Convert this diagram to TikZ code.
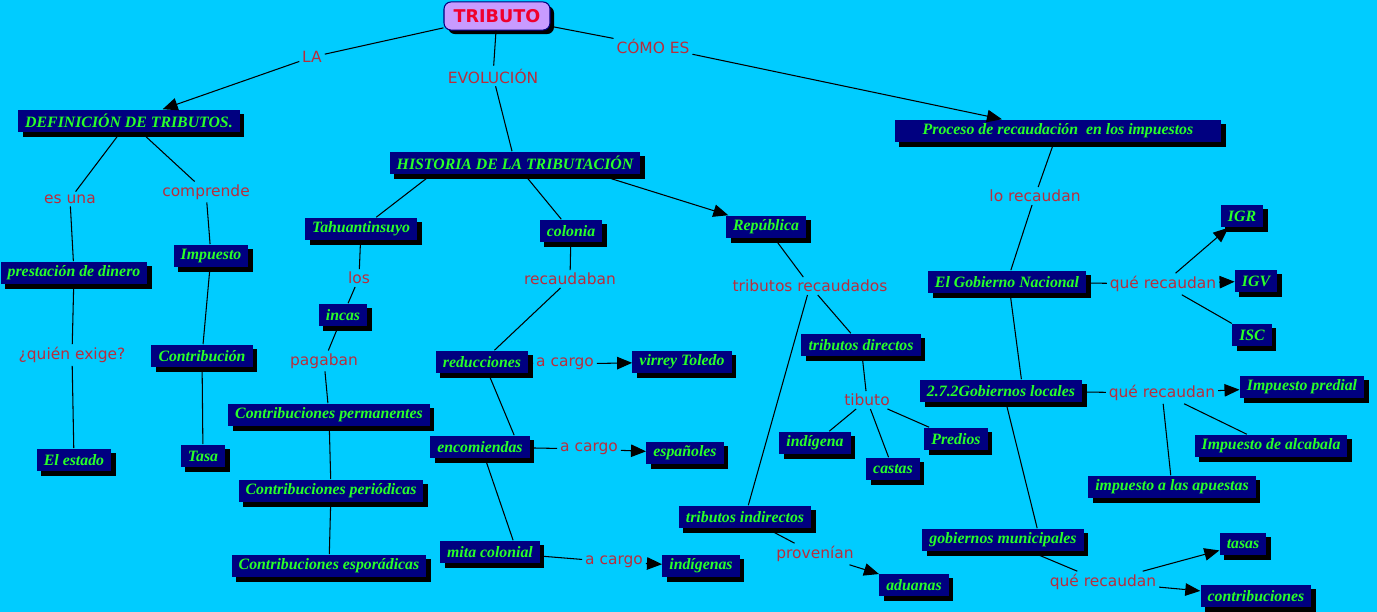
\documentclass[tikz,border=0pt]{standalone}
\usepackage{fontspec}
\setmainfont{DejaVu Sans}
\newfontfamily\boxfont{Liberation Serif}
\usepackage{xcolor}
\usepackage{tikz}
\usetikzlibrary{arrows.meta, shadows}

\definecolor{mapcyan}{RGB}{0,204,255}
\definecolor{boxnavy}{RGB}{0,0,128}
\definecolor{boxgreen}{RGB}{40,255,40}
\definecolor{phrasered}{RGB}{185,45,60}
\definecolor{rootlilac}{RGB}{200,155,255}
\definecolor{rootred}{RGB}{240,0,45}

\begin{document}
\begin{tikzpicture}[
  x=0.02cm, y=-0.02cm,
  concept/.style={
    rectangle,
    fill=boxnavy,
    text=boxgreen,
    font=\boxfont\bfseries\itshape\fontsize{9pt}{10pt}\selectfont,
    inner xsep=4pt,
    inner ysep=0pt,
    minimum height=13pt,
    drop shadow={shadow xshift=2.6pt, shadow yshift=-2.6pt, opacity=1, fill=black}
  },
  root/.style={
    rectangle,
    draw=boxnavy,
    fill=rootlilac,
    text=rootred,
    rounded corners=4pt,
    font=\bfseries\fontsize{10pt}{12pt}\selectfont,
    inner xsep=5.5pt,
    minimum height=16pt,
    line width=0.6pt,
    drop shadow={shadow xshift=2.3pt, shadow yshift=-2.3pt, opacity=1, fill=black}
  },
  phrase/.style={
    text=phrasered,
    font=\fontsize{8.8pt}{10pt}\selectfont,
    inner sep=1.5pt
  },
  link/.style={
    draw=black,
    line width=0.6pt
  },
  flow/.style={
    link,
    -{Triangle[length=3mm, width=2.5mm]}
  }
]

\fill[mapcyan] (0,0) rectangle (1377,612);
\useasboundingbox (0,0) rectangle (1377,612);

% --- Root ------------------------------------------------------------

\node[root] (tributo) at (497,16) {TRIBUTO};

\node[phrase] (la) at (312,57) {LA};
\node[phrase] (evol) at (493,76) {EVOLUCIÓN};
\node[phrase] (comoes) at (653,46) {CÓMO ES};

% --- Definicion branch -----------------------------------------------

\node[concept] (def) at (129,121) {DEFINICIÓN DE TRIBUTOS.};
\node[phrase] (esuna) at (70,199) {es una};
\node[phrase] (comprende) at (206,192) {comprende};
\node[concept] (prest) at (74,273) {prestación de dinero};
\node[concept] (impuesto) at (211,256) {Impuesto};
\node[phrase] (quien) at (72,355) {¿quién exige?};
\node[concept] (contrib) at (202,356) {Contribución};
\node[concept] (estado) at (74,460) {El estado};
\node[concept] (tasa) at (203,456) {Tasa};

% --- Historia branch -------------------------------------------------

\node[concept] (hist) at (515,163) {HISTORIA DE LA TRIBUTACIÓN};
\node[concept] (tahu) at (361,229) {Tahuantinsuyo};
\node[concept] (colonia) at (571,231) {colonia};
\node[concept] (repub) at (766,227) {República};

\node[phrase] (los) at (359,278) {los};
\node[concept] (incas) at (343,315) {incas};
\node[phrase] (pagaban) at (324,361) {pagaban};
\node[concept] (cperm) at (329,415) {Contribuciones permanentes};
\node[concept] (cperi) at (331,491) {Contribuciones periódicas};
\node[concept] (cespo) at (329,566) {Contribuciones esporádicas};

\node[phrase] (recaudaban) at (570,279) {recaudaban};
\node[concept] (reduc) at (482,362) {reducciones};
\node[concept] (encom) at (480,447) {encomiendas};
\node[concept] (mita) at (490,552) {mita colonial};
\node[phrase] (cargoa) at (565,364) {a cargo};
\node[phrase] (cargob) at (589,449) {a cargo};
\node[phrase] (cargoc) at (614,562) {a cargo};
\node[concept] (virrey) at (682,362) {virrey Toledo};
\node[concept] (espan) at (685,453) {españoles};
\node[concept] (indigenas) at (701,566) {indígenas};

\node[phrase] (tribrec) at (810,286) {tributos recaudados};
\node[concept] (tdir) at (861,345) {tributos directos};
\node[phrase] (tibuto) at (867,400) {tibuto};
\node[concept] (indigena) at (815,443) {indígena};
\node[concept] (castas) at (893,469) {castas};
\node[concept] (predios) at (956,439) {Predios};
\node[concept] (tind) at (745,517) {tributos indirectos};
\node[phrase] (provenian) at (815,554) {provenían};
\node[concept] (aduanas) at (914,585) {aduanas};

% --- Recaudacion branch ----------------------------------------------

\node[concept, minimum width=186pt] (proceso) at (1058,131) {Proceso de recaudación\ \ en los impuestos};
\node[phrase] (lorec) at (1035,196) {lo recaudan};
\node[concept] (gobnac) at (1007,282) {El Gobierno Nacional};
\node[phrase] (quea) at (1163,284) {qué recaudan};
\node[concept] (igr) at (1242,216) {IGR};
\node[concept] (igv) at (1256,281) {IGV};
\node[concept] (isc) at (1252,335) {ISC};

\node[concept] (gobloc) at (1001,391) {2.7.2Gobiernos locales};
\node[phrase] (queb) at (1162,393) {qué recaudan};
\node[concept] (predial) at (1302,387) {Impuesto predial};
\node[concept] (alcabala) at (1271,446) {Impuesto de alcabala};
\node[concept] (apuestas) at (1172,487) {impuesto a las apuestas};

\node[concept] (gobmun) at (1003,540) {gobiernos municipales};
\node[phrase] (quec) at (1103,582) {qué recaudan};
\node[concept] (tasas) at (1243,544) {tasas};
\node[concept] (contribs) at (1256,596) {contribuciones};

% --- Links -----------------------------------------------------------

\draw[link] (tributo) -- (la);
\draw[flow] (la) -- (def);
\draw[link] (tributo) -- (evol);
\draw[link] (evol) -- (hist);
\draw[link] (tributo) -- (comoes);
\draw[flow] (comoes) -- (proceso);

\draw[link] (def) -- (esuna);
\draw[link] (esuna) -- (prest);
\draw[link] (prest) -- (quien);
\draw[link] (quien) -- (estado);
\draw[link] (def) -- (comprende);
\draw[link] (comprende) -- (impuesto);
\draw[link] (impuesto) -- (contrib);
\draw[link] (contrib) -- (tasa);

\draw[link] (hist.188) -- (tahu);
\draw[link] (hist) -- (colonia);
\draw[flow] (hist.-8) -- (repub);

\draw[link] (tahu) -- (los);
\draw[link] (los) -- (incas);
\draw[link] (incas) -- (pagaban);
\draw[link] (pagaban) -- (cperm);
\draw[link] (cperm) -- (cperi);
\draw[link] (cperi) -- (cespo);

\draw[link] (colonia) -- (recaudaban);
\draw[link] (recaudaban) -- (reduc);
\draw[link] (reduc.-61) -- (encom.19);
\draw[link] (encom.-66) -- (mita.27);
\draw[link] (reduc) -- (cargoa);
\draw[flow] (cargoa) -- (virrey);
\draw[link] (encom) -- (cargob);
\draw[flow] (cargob) -- (espan);
\draw[link] (mita) -- (cargoc);
\draw[flow] (cargoc) -- (indigenas);

\draw[link] (repub) -- (tribrec);
\draw[link] (tribrec) -- (tdir);
\draw[link] (tribrec) -- (tind);
\draw[link] (tdir) -- (tibuto);
\draw[link] (tibuto) -- (indigena);
\draw[link] (tibuto) -- (castas);
\draw[link] (tibuto) -- (predios);
\draw[link] (tind) -- (provenian);
\draw[flow] (provenian) -- (aduanas);

\draw[link] (proceso) -- (lorec);
\draw[link] (lorec) -- (gobnac);
\draw[link] (gobnac.-75) -- (gobloc.30);
\draw[link] (gobloc.-67) -- (gobmun.19);

\draw[link] (gobnac) -- (quea);
\draw[flow] (quea) -- (igr);
\draw[flow] (quea) -- (igv);
\draw[link] (quea) -- (isc);

\draw[link] (gobloc) -- (queb);
\draw[flow] (queb) -- (predial);
\draw[link] (queb) -- (alcabala);
\draw[link] (queb) -- (apuestas);

\draw[link] (gobmun) -- (quec);
\draw[flow] (quec) -- (tasas);
\draw[flow] (quec) -- (contribs);

\end{tikzpicture}
\end{document}
